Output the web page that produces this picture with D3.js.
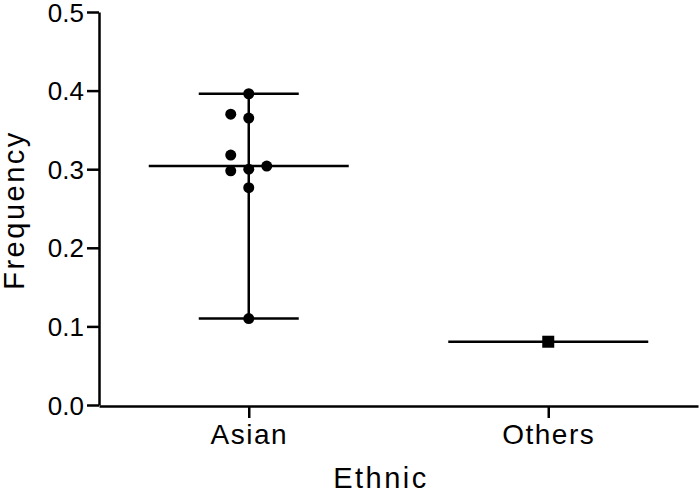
<!DOCTYPE html>
<html>
<head>
<meta charset="utf-8">
<script src="https://cdn.jsdelivr.net/npm/d3@7"></script>
<style>
  body { margin: 0; background: #fff; }
  svg { display: block; }
  text { font-family: "Liberation Sans", Arial, sans-serif; fill: #000; }
</style>
</head>
<body>
<script>
let categories = ["Asian", "Others"]
let asian = [0.396, 0.365, 0.370, 0.300, 0.298, 0.304, 0.318, 0.2765, 0.110]
let others = [0.0805]
let yTicks = [0.0, 0.1, 0.2, 0.3, 0.4, 0.5]

let groups = [
  {name: "Asian", values: asian, shape: "circle"},
  {name: "Others", values: others, shape: "square"}
]

let W = 700, H = 491
let svg = d3.select("body").append("svg").attr("width", W).attr("height", H)

let x = d3.scalePoint().domain(categories).range([99, 698]).padding(0.5)
let y = d3.scaleLinear().domain([0, 0.5]).range([405, 12])

// axes
let yAxis = svg.append("g").attr("transform", "translate(99,0)")
  .call(d3.axisLeft(y).tickValues(yTicks).tickFormat(d3.format(".1f")).tickSize(12).tickSizeOuter(0).tickPadding(3))
yAxis.selectAll("text").style("font-size", "26px").attr("dy", "0.35em")

let xAxis = svg.append("g").attr("transform", "translate(0,406)")
  .call(d3.axisBottom(x).tickSize(12).tickSizeOuter(0).tickPadding(6))
xAxis.selectAll("text").style("font-size", "28px").style("letter-spacing", "1.5px").attr("dy", "0.71em")

svg.selectAll(".domain, .tick line").attr("stroke", "#000").attr("stroke-width", 2.5)

// axis titles
svg.append("text").attr("transform", "translate(24,210) rotate(-90)")
  .attr("text-anchor", "middle").style("font-size", "29px").style("letter-spacing", "2.5px")
  .text("Frequency")
svg.append("text").attr("x", 381).attr("y", 488)
  .attr("text-anchor", "middle").style("font-size", "29px").style("letter-spacing", "2.5px")
  .text("Ethnic")

// median, range whiskers
let g = svg.append("g")
groups.forEach(gr => {
  let cx = x(gr.name)
  let med = d3.median(gr.values)
  let [lo, hi] = d3.extent(gr.values)
  let line = (x1, x2, y1, y2) => g.append("line").attr("x1", x1).attr("x2", x2).attr("y1", y1).attr("y2", y2)
    .attr("stroke", "#000").attr("stroke-width", 2.5)
  if (hi > lo) {
    line(cx, cx, y(lo), y(hi))
    line(cx - 50, cx + 50, y(lo), y(lo))
    line(cx - 50, cx + 50, y(hi), y(hi))
  }
  line(cx - 100, cx + 100, y(med), y(med))

  // simple dodge so overlapping points spread sideways
  let placed = []
  let step = 18, minDist = 15
  gr.values.forEach(v => {
    let py = y(v)
    for (let k of [0, -1, 1, -2, 2]) {
      let px = cx + k * step
      if (placed.every(p => Math.hypot(p[0] - px, p[1] - py) >= minDist)) {
        placed.push([px, py]); break
      }
    }
  })
  if (gr.shape === "circle") {
    g.selectAll(null).data(placed).enter().append("circle")
      .attr("cx", d => d[0]).attr("cy", d => d[1]).attr("r", 5.5).attr("fill", "#000")
  } else {
    g.selectAll(null).data(placed).enter().append("rect")
      .attr("x", d => d[0] - 6).attr("y", d => d[1] - 6).attr("width", 12).attr("height", 12).attr("fill", "#000")
  }
})
</script>
</body>
</html>
